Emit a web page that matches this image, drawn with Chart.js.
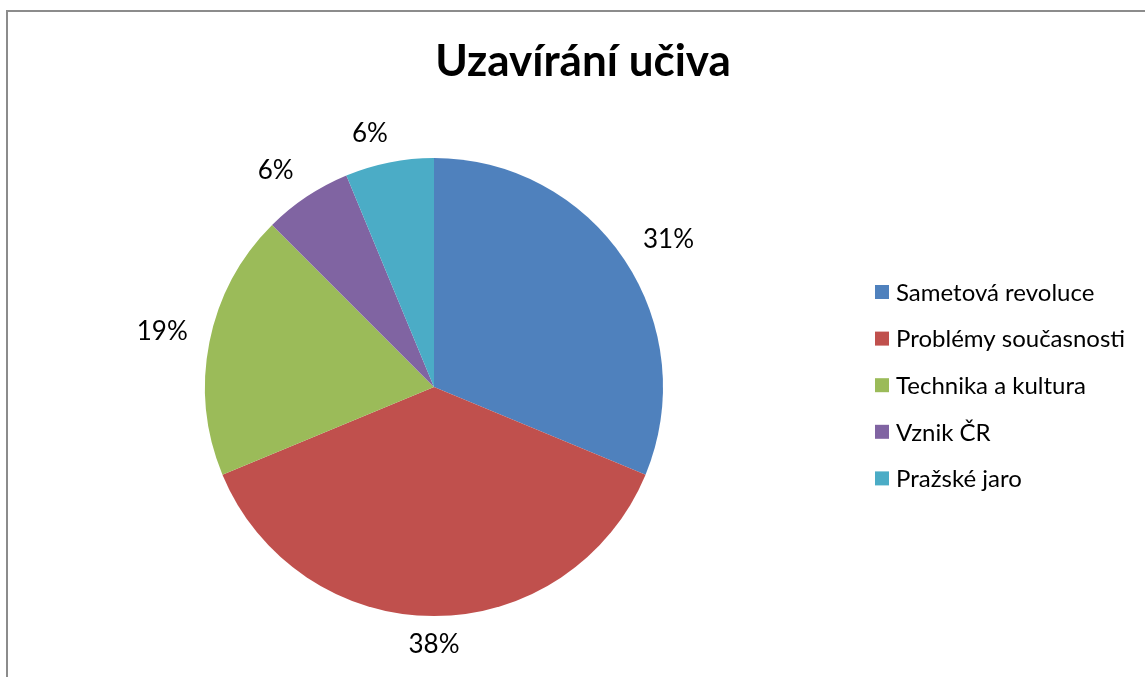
<!DOCTYPE html>
<html>
<head>
<meta charset="utf-8">
<script src="https://cdn.jsdelivr.net/npm/chart.js@4"></script>
<style>
  html, body { margin: 0; padding: 0; background: #fff; overflow: hidden; }
  #frame {
    position: absolute; left: 6px; top: 10px; width: 1200px; height: 700px;
    border-left: 2px solid #8c8c8c; border-top: 2px solid #8c8c8c;
  }
  #wrap { position: absolute; left: 0; top: 0; width: 1145px; height: 677px; }
</style>
</head>
<body>
<div id="frame"></div>
<div id="wrap"><canvas id="pie" width="1145" height="677"></canvas></div>
<script>
const chartTitle = 'Uzavírání učiva';
const categories = ['Sametová revoluce', 'Problémy současnosti', 'Technika a kultura', 'Vznik ČR', 'Pražské jaro'];
const values = [5, 6, 3, 1, 1];
const colors = ['#4F81BD', '#C0504D', '#9BBB59', '#8064A2', '#4BACC6'];

const FONT = 'Lato, "Open Sans", sans-serif';

function clamp1(v) {
    return Math.max(-1, Math.min(1, v));
}

// title, outside percentage labels and legend, drawn the way Excel lays them out
const excelBits = {
    id: 'excelBits',
    afterDraw(chart) {
        const ctx = chart.ctx;
        ctx.save();

        ctx.fillStyle = '#000';
        ctx.textAlign = 'center';
        ctx.textBaseline = 'middle';
        ctx.font = 'bold 44px ' + FONT;
        ctx.fillText(chartTitle, 583, 62);

        const meta = chart.getDatasetMeta(0);
        const total = values.reduce((a, b) => a + b, 0);
        ctx.font = '26px ' + FONT;
        meta.data.forEach((arc, i) => {
            const mid = (arc.startAngle + arc.endAngle) / 2;
            const dx = Math.cos(mid), dy = Math.sin(mid);
            const text = Math.round(values[i] / total * 100) + '%';
            const hw = ctx.measureText(text).width / 2 + 2;
            const hh = 9;
            const r = arc.outerRadius + 20;
            const x = arc.x + dx * r + hw * clamp1(dx * 4);
            const y = arc.y + dy * r + hh * clamp1(dy * 4);
            ctx.fillText(text, x, y);
        });

        ctx.textAlign = 'left';
        ctx.font = '24px ' + FONT;
        categories.forEach((name, i) => {
            const y = 292 + i * 46.6;
            ctx.fillStyle = colors[i];
            ctx.fillRect(875, y - 7, 14, 14);
            ctx.fillStyle = '#000';
            ctx.fillText(name, 896, y + 1);
        });
        ctx.restore();
    }
};

new Chart(document.getElementById('pie'), {
    type: 'pie',
    data: {
        labels: categories,
        datasets: [{
            data: values,
            backgroundColor: colors,
            borderWidth: 0
        }]
    },
    options: {
        responsive: false,
        animation: false,
        layout: {
            padding: { left: 205, right: 482, top: 158, bottom: 61 }
        },
        plugins: {
            legend: { display: false },
            title: { display: false },
            tooltip: { enabled: false }
        }
    },
    plugins: [excelBits]
});
</script>
</body>
</html>
